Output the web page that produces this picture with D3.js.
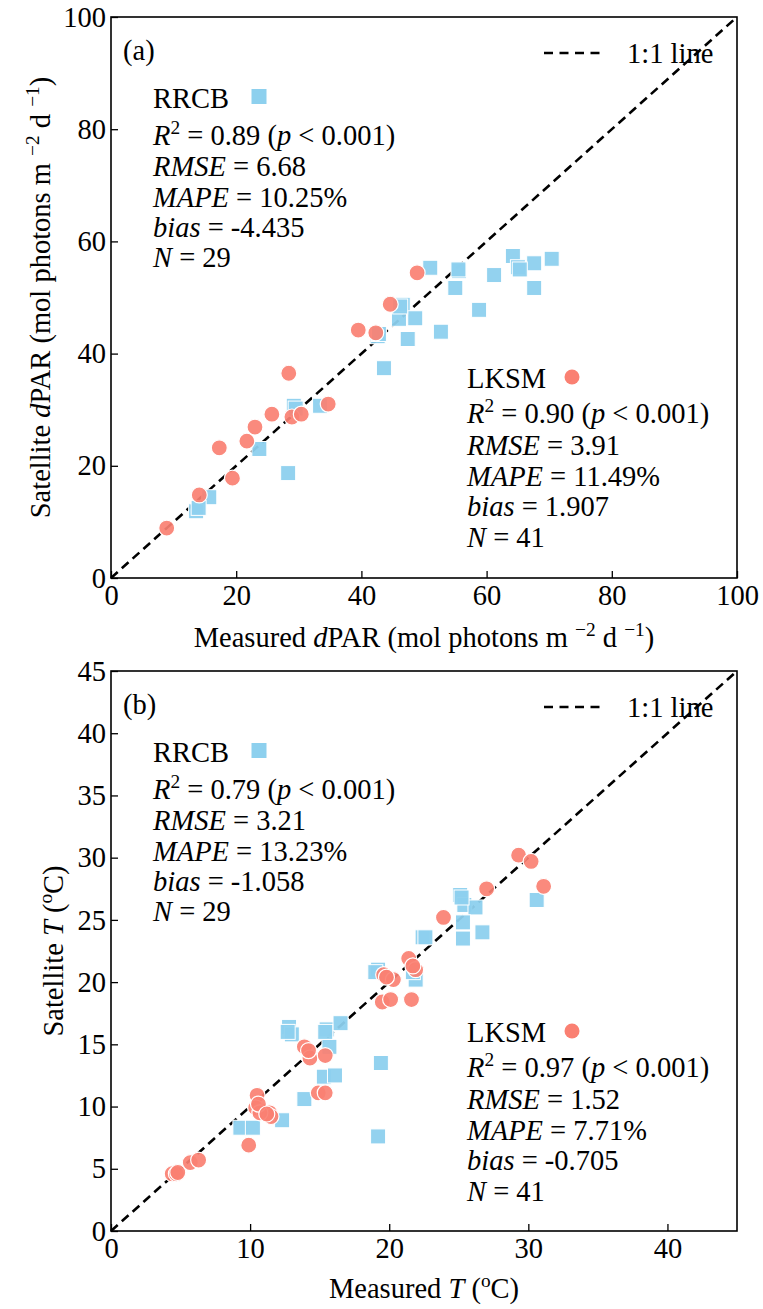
<!DOCTYPE html>
<html>
<head>
<meta charset="utf-8">
<script src="https://cdn.jsdelivr.net/npm/d3@7"></script>
<style>
  body { margin: 0; background: #fff; }
  svg { display: block; }
  text { font-family: 'Liberation Serif', 'Times New Roman', serif; fill: #000; }
</style>
</head>
<body>
<div id="chart"></div>
<script>
// ---- data ----
// (a) dPAR, mol photons m-2 d-1
const parRrcbMeasured = [13.6, 15.7, 23.7, 28.3, 29.2, 33.4, 42.6, 43.6, 46.6, 46.0, 47.4, 48.6, 51.0, 55.6, 55.0,
  61.2, 64.2, 65.0, 67.6, 70.4, 67.6, 58.8, 52.7, 46.2, 55.5, 29.5, 14.0, 65.3, 42.8];
const parRrcbSatellite = [11.9, 14.4, 23.0, 18.7, 30.7, 30.7, 43.1, 37.4, 48.7, 46.2, 42.6, 46.3, 55.3, 54.7, 51.7,
  54.0, 57.4, 55.4, 56.1, 56.9, 51.7, 47.8, 43.9, 48.4, 55.0, 30.2, 12.5, 55.0, 43.5];
const parLksmMeasured = [8.9, 14.1, 17.3, 19.4, 21.7, 23.0, 25.7, 28.4, 28.9, 30.4, 34.7, 39.5, 42.3, 44.6, 48.9];
const parLksmSatellite = [8.9, 14.8, 23.2, 17.8, 24.4, 26.9, 29.2, 36.5, 28.7, 29.2, 31.0, 44.2, 43.7, 48.8, 54.4];

// (b) water temperature, degC
const tRrcbMeasured = [9.3, 10.2, 12.3, 19.2, 13.9, 12.8, 13.0, 15.5, 16.5, 15.7, 15.3, 16.1, 19.4, 19.2, 21.9,
  22.4, 25.1, 25.4, 26.2, 25.3, 25.3, 26.7, 30.6, 22.6, 19.0, 21.7, 25.2, 15.4, 12.7];
const tRrcbSatellite = [8.3, 8.3, 8.9, 7.6, 10.6, 16.4, 15.8, 16.2, 16.7, 14.8, 12.4, 12.5, 13.5, 21.0, 20.2,
  23.6, 27.0, 26.2, 26.0, 24.8, 23.5, 24.0, 26.6, 23.6, 20.8, 20.8, 26.8, 16.0, 16.0];
const tLksmMeasured = [10.5, 13.9, 14.3, 15.4, 14.9, 15.4, 19.6, 20.3, 19.5, 20.1, 21.6, 21.4, 21.9, 23.9, 27.0,
  29.3, 30.2, 31.1, 4.4, 4.7, 5.7, 6.3, 9.9, 10.4, 11.0, 11.4, 11.5, 10.7, 14.2, 21.7, 10.6, 11.2, 19.8, 4.8];
const tLksmSatellite = [10.9, 14.8, 13.9, 14.1, 11.1, 11.1, 20.6, 20.2, 18.4, 18.6, 18.6, 21.9, 21.0, 25.2, 27.5,
  30.2, 29.7, 27.7, 4.6, 4.6, 5.5, 5.7, 6.9, 9.9, 9.6, 9.5, 9.2, 9.5, 14.5, 21.3, 10.2, 9.4, 20.4, 4.7];

const parTicks = [0, 20, 40, 60, 80, 100];
const tYTicks = [0, 5, 10, 15, 20, 25, 30, 35, 40, 45];
const tXTicks = [0, 10, 20, 30, 40];

const statsA = {
  rrcb: ['0.89', '6.68', '10.25%', '-4.435', '29'],
  lksm: ['0.90', '3.91', '11.49%', '1.907', '41']
};
const statsB = {
  rrcb: ['0.79', '3.21', '13.23%', '-1.058', '29'],
  lksm: ['0.97', '1.52', '7.71%', '-0.705', '41']
};

const blue = '#8dd0ee';
const red = '#fa8072';
const fs = 28.5;

const W = 763, H = 1309;
const svg = d3.select('#chart').append('svg')
  .attr('width', W)
  .attr('height', H);

// writes a list of runs [text, italic, sup] into a text element
function rich(sel, parts) {
  let raised = false;
  parts.forEach(p => {
    const ts = sel.append('tspan').text(p[0]);
    if (p[1]) ts.style('font-style', 'italic');
    if (p[2] && !raised) { ts.attr('dy', -0.4 * fs).style('font-size', (fs * 0.68) + 'px'); raised = true; }
    else if (p[2]) { ts.style('font-size', (fs * 0.68) + 'px'); }
    else if (raised) { ts.attr('dy', 0.4 * fs); raised = false; }
  });
  return sel;
}

function statBlock(g, x, y0, gaps, name, marker, markerX, vals) {
  const ys = [y0];
  gaps.forEach((d, i) => ys.push(ys[i] + d));
  g.append('text').attr('x', x).attr('y', ys[0]).style('font-size', fs + 'px').text(name);
  if (marker === 'square') {
    g.append('rect').attr('x', markerX - 7.5).attr('y', ys[0] - 19).attr('width', 15).attr('height', 15)
      .attr('fill', blue);
  } else {
    g.append('circle').attr('cx', markerX).attr('cy', ys[0] - 11).attr('r', 7.5).attr('fill', red);
  }
  const lines = [
    [['R', true], ['2', false, true], [' = ' + vals[0] + ' ('], ['p', true], [' < 0.001)']],
    [['RMSE', true], [' = ' + vals[1]]],
    [['MAPE', true], [' = ' + vals[2]]],
    [['bias', true], [' = ' + vals[3]]],
    [['N', true], [' = ' + vals[4]]]
  ];
  lines.forEach((l, i) => {
    rich(g.append('text').attr('x', x).attr('y', ys[i + 1]).style('font-size', fs + 'px'), l);
  });
}

function panel(cfg) {
  const g = svg.append('g');
  const x = d3.scaleLinear().domain([0, cfg.max]).range([111, 737]);
  const y = d3.scaleLinear().domain([0, cfg.max]).range([cfg.bottom, cfg.top]);

  // 1:1 line
  g.append('line')
    .attr('x1', x(0)).attr('y1', y(0)).attr('x2', x(cfg.max)).attr('y2', y(cfg.max))
    .attr('stroke', '#000').attr('stroke-width', 2.6).attr('stroke-dasharray', '9,5.5');

  // RRCB squares
  g.append('g').selectAll('rect')
    .data(cfg.rrcbX.map((d, i) => [d, cfg.rrcbY[i]]))
    .enter().append('rect')
    .attr('x', d => x(d[0]) - 7.5)
    .attr('y', d => y(d[1]) - 7.5)
    .attr('width', 15).attr('height', 15)
    .attr('fill', blue).attr('fill-opacity', 0.95)
    .attr('stroke', '#fff').attr('stroke-width', 1);

  // LKSM circles
  g.append('g').selectAll('circle')
    .data(cfg.lksmX.map((d, i) => [d, cfg.lksmY[i]]))
    .enter().append('circle')
    .attr('cx', d => x(d[0]))
    .attr('cy', d => y(d[1]))
    .attr('r', 8)
    .attr('fill', red).attr('fill-opacity', 0.92)
    .attr('stroke', '#fff').attr('stroke-width', 1.2);

  // axes, ticks pointing inward
  const xAxis = d3.axisBottom(x).tickValues(cfg.xTicks).tickSizeInner(-7).tickSizeOuter(0).tickPadding(7);
  const yAxis = d3.axisLeft(y).tickValues(cfg.yTicks).tickSizeInner(-7).tickSizeOuter(0).tickPadding(5);
  const gx = g.append('g').attr('transform', 'translate(0,' + cfg.bottom + ')').call(xAxis);
  const gy = g.append('g').attr('transform', 'translate(111,0)').call(yAxis);
  [gx, gy].forEach(a => {
    a.select('.domain').remove();
    a.selectAll('line').attr('stroke', '#000').attr('stroke-width', 1.3);
    a.selectAll('text').style('font-size', fs + 'px')
      .style('font-family', "'Liberation Serif', 'Times New Roman', serif");
  });

  // frame
  g.append('rect').attr('x', 111).attr('y', cfg.top).attr('width', 626).attr('height', cfg.bottom - cfg.top)
    .attr('fill', 'none').attr('stroke', '#000').attr('stroke-width', 1.6);

  // panel letter
  g.append('text').attr('x', 123).attr('y', cfg.top + 43).style('font-size', fs + 'px').text(cfg.letter);

  // legend
  g.append('line').attr('x1', 544).attr('x2', 602).attr('y1', cfg.top + 36).attr('y2', cfg.top + 36)
    .attr('stroke', '#000').attr('stroke-width', 2.6).attr('stroke-dasharray', '9,6.5');
  g.append('text').attr('x', 627).attr('y', cfg.top + 46).style('font-size', fs + 'px').text('1:1 line');

  statBlock(g, 153, cfg.top + 91, [37, 31, 31, 30, 30], 'RRCB', 'square', 259, cfg.stats.rrcb);
  statBlock(g, 467, cfg.lksmY0, [35, 32, 31, 30, 31], 'LKSM', 'circle', 572, cfg.stats.lksm);

  // axis titles
  rich(g.append('text').attr('x', 424).attr('y', cfg.xTitleY).attr('text-anchor', 'middle')
    .style('font-size', fs + 'px'), cfg.xTitle);
  rich(g.append('text').attr('text-anchor', 'middle')
    .attr('transform', 'translate(' + cfg.yTitleX + ',' + ((cfg.top + cfg.bottom) / 2) + ') rotate(-90)')
    .style('font-size', fs + 'px'), cfg.yTitle);
}

panel({
  max: 100, top: 17, bottom: 578, letter: '(a)',
  xTicks: parTicks, yTicks: parTicks,
  rrcbX: parRrcbMeasured, rrcbY: parRrcbSatellite,
  lksmX: parLksmMeasured, lksmY: parLksmSatellite,
  stats: statsA, lksmY0: 388,
  xTitleY: 647, yTitleX: 50,
  xTitle: [['Measured '], ['d', true], ['PAR (mol photons m '], ['\u22122', false, true], [' d '], ['\u22121', false, true], [')']],
  yTitle: [['Satellite '], ['d', true], ['PAR (mol photons m '], ['\u22122', false, true], [' d '], ['\u22121', false, true], [')']]
});

panel({
  max: 45, top: 671, bottom: 1231, letter: '(b)',
  xTicks: tXTicks, yTicks: tYTicks,
  rrcbX: tRrcbMeasured, rrcbY: tRrcbSatellite,
  lksmX: tLksmMeasured, lksmY: tLksmSatellite,
  stats: statsB, lksmY0: 1042,
  xTitleY: 1298, yTitleX: 63,
  xTitle: [['Measured '], ['T', true], [' ('], ['o', false, true], ['C)']],
  yTitle: [['Satellite '], ['T', true], [' ('], ['o', false, true], ['C)']]
});
</script>
</body>
</html>
